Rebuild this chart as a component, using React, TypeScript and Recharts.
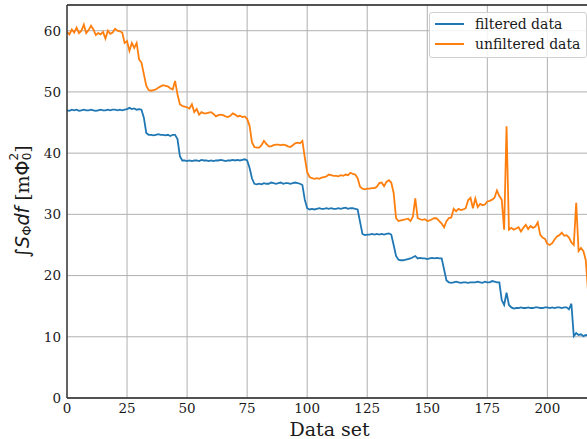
import React from "react";
import {
  LineChart,
  Line,
  XAxis,
  YAxis,
  CartesianGrid,
  ReferenceLine,
} from "recharts";

const SERIF = "'DejaVu Serif', serif";
const SANS = "'DejaVu Sans', sans-serif";
const GRID = "#b0b0b0";
const SPINE = "#262626";
const TEXT = "#1a1a1a";
const BLUE = "#1f77b4";
const ORANGE = "#ff7f0e";

const X_TICKS = [0, 25, 50, 75, 100, 125, 150, 175, 200];
const Y_TICKS = [0, 10, 20, 30, 40, 50, 60];
const X_MAX = 217;
const Y_MAX = 64.2;

// integrated flux noise per data set
const FILTERED = [
  47.0, 46.9, 47.1, 47.0, 47.1, 46.9, 47.0, 47.1, 47.0, 47.0,
  47.1, 47.0, 46.9, 47.0, 47.1, 47.0, 47.0, 47.1, 47.0, 47.1,
  47.1, 47.0, 47.1, 47.0, 47.1, 47.2, 47.4, 47.2, 47.3, 47.1,
  47.2, 47.1, 45.8, 43.3, 43.0, 43.0, 42.9, 43.0, 43.1, 43.0,
  43.0, 42.9, 43.0, 42.8, 43.0, 43.0, 42.3, 39.5, 38.8, 38.8,
  38.7, 38.8, 38.7, 38.8, 38.8, 38.7, 38.9, 38.8, 38.8, 38.7,
  38.8, 38.7, 38.8, 38.8, 38.9, 38.8, 38.7, 38.8, 38.8, 38.9,
  38.8, 38.9, 38.8, 38.9, 39.0, 38.8, 37.6, 35.9, 35.0, 34.9,
  35.0, 34.9, 35.1, 35.0, 35.0, 35.2, 35.1, 35.0, 35.1, 35.2,
  35.0, 35.1, 35.1, 35.0, 35.1, 35.2, 35.1, 35.0, 34.8, 32.4,
  31.0, 30.8, 30.9, 30.8, 30.9, 31.0, 30.9, 30.9, 31.0, 30.9,
  31.0, 30.9, 30.9, 31.0, 30.9, 31.0, 31.1, 30.9, 31.0, 31.0,
  30.9, 30.8, 28.8, 26.8, 26.6, 26.7, 26.7, 26.8, 26.7, 26.8,
  26.7, 26.8, 26.7, 26.8, 26.9, 26.7, 25.0, 23.2, 22.6, 22.5,
  22.5, 22.6, 22.7, 22.8, 23.0, 23.2, 22.8, 22.9, 22.8, 22.8,
  22.7, 22.8, 22.9, 22.8, 22.9, 22.8, 22.8, 21.0, 19.2, 18.9,
  18.8, 18.9, 19.0, 18.9, 18.8, 18.9, 18.9, 18.8, 18.9, 18.9,
  18.9, 19.0, 18.9, 18.8, 19.0, 18.9, 18.9, 19.1, 19.0, 18.9,
  18.9, 16.0, 15.2, 17.2, 15.2, 14.8, 14.6, 14.7, 14.7, 14.8,
  14.7, 14.7, 14.8, 14.7, 14.7, 14.8, 14.8, 14.7, 14.7, 14.8,
  14.8, 14.7, 14.8, 14.7, 14.8, 14.8, 14.7, 14.8, 14.8, 14.5,
  15.4, 10.1, 10.6, 10.3, 10.4, 10.1, 10.3, 10.2,
];

const UNFILTERED = [
  59.8, 59.4, 60.2, 59.7, 60.5, 59.6, 60.0, 61.0, 59.6, 60.1,
  60.8, 60.2, 59.3, 59.6, 59.4, 59.8, 58.7, 60.0, 59.5, 59.7,
  60.3, 60.0, 59.9, 59.7, 58.0, 58.3, 56.7, 58.0, 57.2, 58.0,
  55.3, 54.8, 52.9, 51.0, 50.3, 50.2, 50.3, 50.4, 50.7, 50.9,
  51.1, 51.0, 50.9, 50.6, 50.4, 51.8, 49.6, 48.0, 47.7, 47.6,
  47.5, 47.3, 48.0, 46.7, 47.2, 46.3, 46.7, 46.5, 46.5, 46.6,
  46.7, 46.4, 46.0, 46.2, 46.3, 46.2, 46.0, 45.9, 46.1, 46.5,
  46.3, 46.0, 46.1, 45.9, 46.0, 45.6, 44.5, 41.8, 41.0, 40.9,
  40.9, 41.3, 42.0, 41.5, 41.1, 41.1, 41.3, 41.4, 41.4, 41.3,
  41.4, 41.3, 41.1, 41.0, 41.3, 41.6, 41.7, 41.6, 42.0, 39.3,
  36.9, 36.1, 35.9, 35.8, 35.9, 35.8, 36.0, 36.1, 36.2, 36.5,
  36.4, 36.3, 36.3, 36.2, 36.4, 36.3, 36.5, 36.4, 36.8, 36.6,
  36.5, 35.9, 34.5, 34.2, 34.1, 34.2, 34.2, 34.3, 34.3, 34.5,
  35.1, 35.2, 34.6, 35.3, 35.6, 35.2, 33.5, 29.4, 28.9, 29.0,
  29.1, 29.2, 29.3, 28.9, 29.6, 32.6, 29.4, 29.2, 29.1, 29.2,
  28.9, 29.0, 29.2, 29.4, 29.3, 28.9, 28.5, 27.9, 28.9, 29.4,
  29.5, 30.9, 30.5, 30.9, 30.7, 30.8, 31.0, 32.3, 32.7, 31.0,
  32.6, 31.2, 31.7, 31.5, 31.6, 32.1, 32.2, 32.4, 32.7, 33.9,
  33.0, 32.4, 27.5, 44.4, 27.5, 27.8, 27.5, 27.7, 27.9, 27.2,
  27.8, 28.3, 27.6, 28.1, 27.8, 28.0, 28.7, 26.7, 26.2, 26.0,
  25.2, 25.0, 25.3, 25.9, 26.4, 26.6, 27.0, 26.5, 26.6, 26.2,
  25.4, 25.0, 31.9, 24.0, 24.5, 24.0, 22.5, 17.0,
];

const SERIES = [
  { key: "filtered", name: "filtered data", color: BLUE },
  { key: "unfiltered", name: "unfiltered data", color: ORANGE },
];

const data = FILTERED.map((f, i) => ({ set: i, filtered: f, unfiltered: UNFILTERED[i] }));

const tickStyle = { fontSize: 13.5, fill: TEXT, fontFamily: SERIF };

const YLabel = ({ viewBox }: any) => {
  const cy = viewBox.y + viewBox.height / 2;
  return (
    <text
      transform={`translate(22,${cy}) rotate(-90)`}
      textAnchor="middle"
      dominantBaseline="central"
      fontSize={19}
      fill={TEXT}
      fontFamily={SERIF}
    >
      <tspan fontFamily={SANS}>∫</tspan>
      <tspan fontFamily={SANS} fontStyle="italic">S</tspan>
      <tspan fontFamily={SANS} fontSize={13} dy={4}>Φ</tspan>
      <tspan fontFamily={SANS} fontStyle="italic" dy={-4}>df</tspan>
      <tspan>{"  [m"}</tspan>
      <tspan fontFamily={SANS}>Φ</tspan>
      <tspan fontFamily={SANS} fontSize={12} dy={-8}>2</tspan>
      <tspan fontFamily={SANS} fontSize={12} dx={-7.5} dy={13}>0</tspan>
      <tspan dy={-5}>]</tspan>
    </text>
  );
};

// legend drawn as an overlay so it takes no room from the plot
const LegendBox = () => (
  <div
    style={{
      position: "absolute",
      left: 429,
      top: 12,
      width: 158,
      border: "1px solid #d0d0d0",
      borderRadius: 3,
      background: "rgba(255,255,255,0.85)",
      padding: "1px 4px 3px 5px",
      fontFamily: SERIF,
      fontSize: 14,
      color: TEXT,
      boxSizing: "border-box",
    }}
  >
    {SERIES.map((s) => (
      <div key={s.key} style={{ display: "flex", alignItems: "center", height: 20 }}>
        <span style={{ width: 29, height: 2, background: s.color, marginRight: 11, flexShrink: 0 }} />
        <span style={{ whiteSpace: "nowrap" }}>{s.name}</span>
      </div>
    ))}
  </div>
);

export default function App() {
  return (
    <div style={{ position: "absolute", left: 0, top: 0, width: 587, height: 439, overflow: "hidden", background: "#fff" }}>
      <LineChart width={600} height={439} data={data} margin={{ top: 5, right: 11.8, left: 0, bottom: 0 }}>
        <CartesianGrid stroke={GRID} strokeWidth={1} />
        <XAxis
          type="number"
          dataKey="set"
          domain={[0, X_MAX]}
          ticks={X_TICKS}
          allowDataOverflow
          height={41}
          tickSize={0}
          tickMargin={5}
          tickLine={false}
          axisLine={{ stroke: SPINE, strokeWidth: 1.3 }}
          tick={tickStyle}
          label={{
            value: "Data set",
            position: "insideBottom",
            offset: 3,
            dx: 2,
            fontSize: 19,
            fill: TEXT,
            fontFamily: SERIF,
          }}
        />
        <YAxis
          type="number"
          domain={[0, Y_MAX]}
          ticks={Y_TICKS}
          allowDataOverflow
          width={67}
          tickSize={0}
          tickMargin={6}
          tickLine={false}
          axisLine={{ stroke: SPINE, strokeWidth: 1.3 }}
          tick={tickStyle}
          label={YLabel}
        />
        <ReferenceLine y={Y_MAX} stroke={SPINE} strokeWidth={1.3} />
        {SERIES.map((s) => (
          <Line
            key={s.key}
            type="linear"
            dataKey={s.key}
            name={s.name}
            stroke={s.color}
            strokeWidth={1.8}
            dot={false}
            isAnimationActive={false}
          />
        ))}
      </LineChart>
      <LegendBox />
    </div>
  );
}
